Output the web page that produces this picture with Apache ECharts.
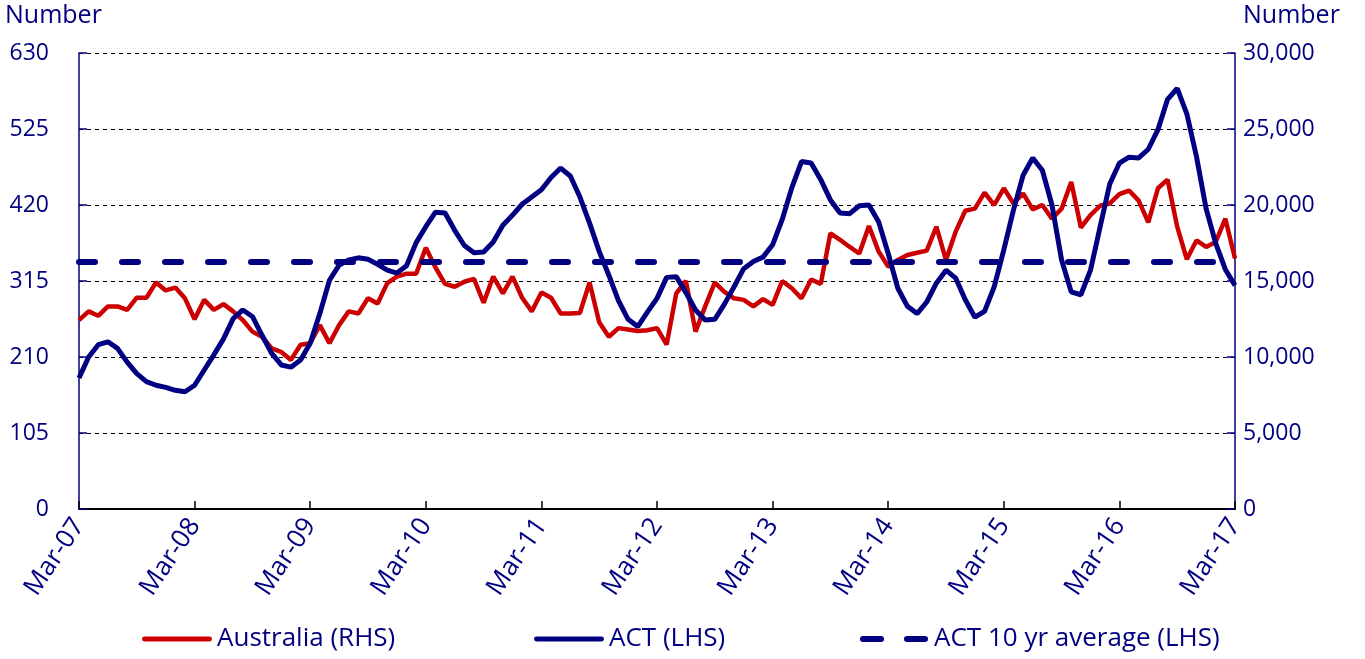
<!DOCTYPE html>
<html>
<head>
<meta charset="utf-8">
<title>ACT and Australia</title>
<script src="https://cdn.jsdelivr.net/npm/echarts@6/dist/echarts.min.js"></script>
<style>
html, body { margin: 0; padding: 0; background: #fff; }
#chart { width: 1365px; height: 659px; }
</style>
</head>
<body>
<div id="chart"></div>
<script>
// monthly, Mar-07 .. Mar-17
const monthNames = ['Jan', 'Feb', 'Mar', 'Apr', 'May', 'Jun', 'Jul', 'Aug', 'Sep', 'Oct', 'Nov', 'Dec'];
const categories = [];
for (let k = 0; k < 121; k++) {
  const m = (2 + k) % 12;
  const y = 7 + Math.floor((2 + k) / 12);
  categories.push(monthNames[m] + '-' + String(y).padStart(2, '0'));
}

// ACT (LHS)
const act = [
  181, 210, 227, 231, 222, 203, 187, 176, 171, 168, 164, 162,
  171, 192, 213, 235, 263, 275, 266, 240, 215, 199, 196, 206,
  229, 270, 316, 337, 344, 347, 345, 338, 330, 326, 336, 368,
  390, 410, 409, 385, 364, 354, 355, 369, 392, 406, 421, 431,
  441, 458, 471, 460, 431, 395, 356, 323, 288, 262, 252, 272,
  291, 320, 321, 299, 275, 261, 262, 283, 307, 332, 342, 348,
  365, 400, 444, 480, 478, 455, 427, 409, 408, 419, 420, 397,
  353, 305, 280, 270, 286, 312, 330, 319, 289, 265, 273, 307,
  358, 413, 461, 485, 468, 420, 344, 300, 296, 330, 390, 449,
  478, 486, 485, 497, 524, 566, 581, 546, 487, 415, 367, 331,
  309
];

// Australia (RHS)
const australia = [
  12430, 13000, 12710, 13330, 13330, 13100, 13900, 13900, 14900, 14380, 14570, 13860,
  12480, 13760, 13100, 13480, 13000, 12430, 11670, 11330, 10570, 10330, 9810, 10810,
  10900, 12100, 10900, 12100, 13000, 12860, 13860, 13520, 14860, 15290, 15480, 15480,
  17190, 15900, 14810, 14620, 14950, 15140, 13570, 15290, 14190, 15290, 13900, 13000,
  14240, 13900, 12860, 12860, 12900, 14900, 12290, 11330, 11900, 11810, 11710, 11760,
  11900, 10810, 14190, 15000, 11670, 13330, 14900, 14290, 13860, 13760, 13330, 13810,
  13430, 15000, 14520, 13860, 15100, 14810, 18140, 17710, 17240, 16810, 18620, 16950,
  15950, 16380, 16710, 16860, 17000, 18570, 16380, 18240, 19620, 19760, 20810, 20000,
  21100, 20100, 20760, 19710, 20000, 19100, 19760, 21520, 18520, 19330, 19950, 20100,
  20710, 20950, 20290, 18860, 21100, 21670, 18570, 16430, 17670, 17240, 17570, 19100,
  16480
];

// ACT 10 yr average (LHS)
const actAverage = 342;

const leftTicks = { min: 0, max: 630, interval: 105 };
const rightTicks = { min: 0, max: 30000, interval: 5000 };

const NAVY = '#000080';
const RED = '#CC0000';
const FONT = 'Open Sans';

// legend swatches: a solid bar and two round-ended dashes
const solidIcon = 'path://M2,0H68A2.5,2.5 0 0 1 68,5H2A2.5,2.5 0 0 1 2,0Z';
const dashIcon = 'path://M3,0H21A3,3 0 0 1 21,6H3A3,3 0 0 1 3,0Z M47,0H65A3,3 0 0 1 65,6H47A3,3 0 0 1 47,0Z';

const chart = echarts.init(document.getElementById('chart'));

const legendBase = {
  top: 621,
  itemWidth: 70,
  itemHeight: 6,
  textStyle: { color: NAVY, fontFamily: FONT, fontSize: 26 },
  selectedMode: false
};

chart.setOption({
  animation: false,
  backgroundColor: '#fff',
  grid: { left: 79, right: 130, top: 53, bottom: 150 },
  graphic: [
    { type: 'text', left: 5, top: 3, style: { text: 'Number', fill: NAVY, font: '25px "Open Sans"' } },
    { type: 'text', left: 1243, top: 3, style: { text: 'Number', fill: NAVY, font: '25px "Open Sans"' } }
  ],
  legend: [
    Object.assign({}, legendBase, { left: 137, data: [{ name: 'Australia (RHS)', icon: solidIcon }] }),
    Object.assign({}, legendBase, { left: 529, data: [{ name: 'ACT (LHS)', icon: solidIcon }] }),
    Object.assign({}, legendBase, { left: 855, data: [{ name: 'ACT 10 yr average (LHS)', icon: dashIcon }] })
  ],
  xAxis: {
    type: 'category',
    data: categories,
    boundaryGap: false,
    axisLine: { lineStyle: { color: '#000', width: 2 } },
    axisTick: { interval: 11, inside: true, length: 8, lineStyle: { color: '#000', width: 1.5 } },
    axisLabel: {
      interval: 11,
      rotate: 56,
      margin: 12,
      color: NAVY,
      fontFamily: FONT,
      fontSize: 26
    },
    splitLine: { show: false }
  },
  yAxis: [
    {
      type: 'value',
      position: 'left',
      min: leftTicks.min,
      max: leftTicks.max,
      interval: leftTicks.interval,
      axisLine: { show: true, lineStyle: { color: NAVY, width: 1.5 } },
      axisTick: { show: true, inside: true, length: 8, lineStyle: { color: NAVY, width: 1.5 } },
      axisLabel: { color: NAVY, fontFamily: FONT, fontSize: 23, margin: 30 },
      splitLine: { show: true, lineStyle: { color: '#000', width: 1, type: [4, 4] } }
    },
    {
      type: 'value',
      position: 'right',
      min: rightTicks.min,
      max: rightTicks.max,
      interval: rightTicks.interval,
      axisLine: { show: true, lineStyle: { color: NAVY, width: 1.5 } },
      axisTick: { show: true, inside: true, length: 8, lineStyle: { color: NAVY, width: 1.5 } },
      axisLabel: {
        color: NAVY, fontFamily: FONT, fontSize: 23, margin: 8,
        formatter: v => v.toLocaleString('en-US')
      },
      splitLine: { show: false }
    }
  ],
  series: [
    {
      name: 'Australia (RHS)',
      type: 'line',
      yAxisIndex: 1,
      data: australia,
      symbol: 'none',
      lineStyle: { color: RED, width: 4.5 },
      itemStyle: { color: RED }
    },
    {
      name: 'ACT (LHS)',
      type: 'line',
      yAxisIndex: 0,
      data: act,
      symbol: 'none',
      lineStyle: { color: NAVY, width: 5 },
      itemStyle: { color: NAVY }
    },
    {
      name: 'ACT 10 yr average (LHS)',
      type: 'line',
      yAxisIndex: 0,
      data: [],
      symbol: 'none',
      lineStyle: { color: NAVY, width: 6, type: [16, 27], cap: 'round' },
      itemStyle: { color: NAVY },
      markLine: {
        silent: true,
        symbol: 'none',
        label: { show: false },
        lineStyle: { color: NAVY, width: 6, type: [16, 27], cap: 'round' },
        data: [{ yAxis: actAverage }]
      }
    }
  ]
});
</script>
</body>
</html>
